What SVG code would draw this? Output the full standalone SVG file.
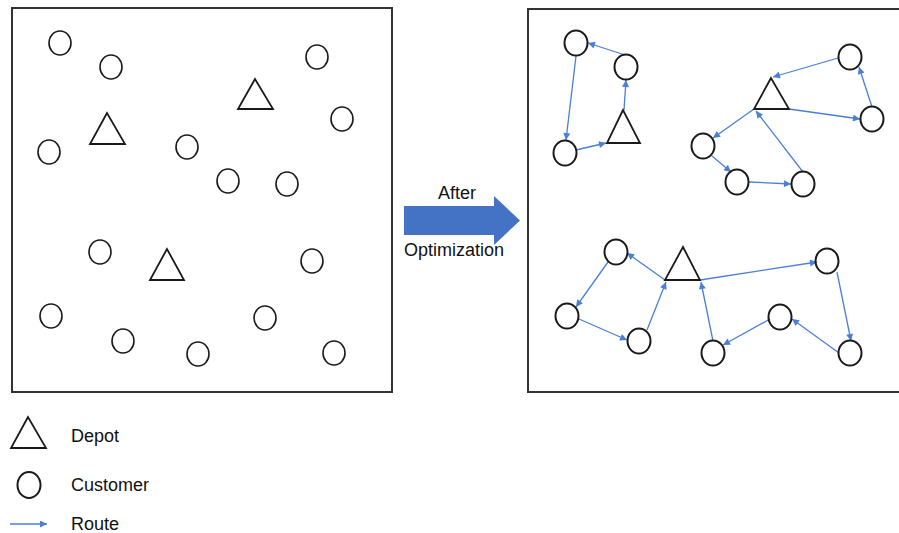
<svg xmlns="http://www.w3.org/2000/svg" width="899" height="533" viewBox="0 0 899 533">
  <style>
    .panel { fill: #ffffff; stroke: #333333; stroke-width: 2; }
    .cust { fill: none; stroke: #1a1a1a; stroke-width: 1.6; }
    .cust2 { fill: none; stroke: #1a1a1a; stroke-width: 2; }
    .depot { fill: none; stroke: #1a1a1a; stroke-width: 1.8; stroke-linejoin: miter; }
    .route { stroke: #4a7fd6; stroke-width: 1.3; fill: none; marker-end: url(#tip); }
    .lbl { font-family: "Liberation Sans", Arial, sans-serif; font-size: 18px; fill: #111111; }
  </style>
  <defs>
    <marker id="tip" viewBox="0 0 10 10" refX="10" refY="5" markerWidth="8" markerHeight="7" markerUnits="userSpaceOnUse" orient="auto">
      <path d="M0,0 L10,5 L0,10 Z" fill="#4a7fd6"/>
    </marker>
  </defs>
  <rect width="899" height="533" fill="#ffffff"/>

  <!-- Before: unassigned customers and depots -->
  <g id="panel-before">
    <rect class="panel" x="12" y="8" width="380" height="384"/>
    <g id="before-depots">
      <polygon class="depot" points="107,113 90,144 125,144"/>
      <polygon class="depot" points="255,79 238,109 273,109"/>
      <polygon class="depot" points="167,249 150,280 184,280"/>
    </g>
    <g id="before-customers">
      <ellipse class="cust" cx="60" cy="43" rx="11" ry="12"/>
      <ellipse class="cust" cx="111" cy="67" rx="11" ry="12"/>
      <ellipse class="cust" cx="49" cy="152" rx="11" ry="12"/>
      <ellipse class="cust" cx="187" cy="147" rx="11" ry="12"/>
      <ellipse class="cust" cx="228" cy="181" rx="11" ry="12"/>
      <ellipse class="cust" cx="287" cy="184" rx="11" ry="12"/>
      <ellipse class="cust" cx="317" cy="57" rx="11" ry="12"/>
      <ellipse class="cust" cx="342" cy="119" rx="11" ry="12"/>
      <ellipse class="cust" cx="100" cy="252" rx="11" ry="12"/>
      <ellipse class="cust" cx="312" cy="261" rx="11" ry="12"/>
      <ellipse class="cust" cx="51" cy="316" rx="11" ry="12"/>
      <ellipse class="cust" cx="123" cy="341" rx="11" ry="12"/>
      <ellipse class="cust" cx="198" cy="354" rx="11" ry="12"/>
      <ellipse class="cust" cx="265" cy="318" rx="11" ry="12"/>
      <ellipse class="cust" cx="334" cy="353" rx="11" ry="12"/>
    </g>
  </g>

  <!-- Transition arrow -->
  <g id="transition">
    <path d="M404,206 L494,206 L494,196 L520,220.5 L494,245 L494,235 L404,235 Z" fill="#4472c4"/>
    <text class="lbl" x="457" y="199" text-anchor="middle">After</text>
    <text class="lbl" x="454" y="256" text-anchor="middle">Optimization</text>
  </g>

  <!-- After: routed customers -->
  <g id="panel-after">
    <rect class="panel" x="528" y="9" width="385" height="383"/>
  </g>

  <g id="routes">
    <line class="route" x1="625" y1="55" x2="588" y2="43"/>
    <line class="route" x1="576" y1="56" x2="566" y2="140"/>
    <line class="route" x1="576" y1="150" x2="606" y2="143"/>
    <line class="route" x1="624" y1="110" x2="626" y2="80"/>

    <line class="route" x1="838" y1="58" x2="773" y2="77"/>
    <line class="route" x1="789" y1="109" x2="860" y2="119"/>
    <line class="route" x1="872" y1="107" x2="859" y2="67"/>
    <line class="route" x1="754" y1="109" x2="713" y2="138"/>
    <line class="route" x1="712" y1="156" x2="731" y2="172"/>
    <line class="route" x1="749" y1="182" x2="791" y2="184"/>
    <line class="route" x1="803" y1="172" x2="756" y2="111"/>

    <line class="route" x1="665" y1="280" x2="627" y2="253"/>
    <line class="route" x1="608" y1="262" x2="576" y2="307"/>
    <line class="route" x1="579" y1="319" x2="627" y2="340"/>
    <line class="route" x1="647" y1="330" x2="666" y2="282"/>
    <line class="route" x1="713" y1="341" x2="701" y2="282"/>
    <line class="route" x1="700" y1="280" x2="817" y2="262"/>
    <line class="route" x1="837" y1="272" x2="851" y2="341"/>
    <line class="route" x1="839" y1="353" x2="792" y2="319"/>
    <line class="route" x1="770" y1="319" x2="723" y2="345"/>
  </g>

  <g id="depot-1"><polygon class="depot" points="623,110 607,143 640,143"/></g>
  <g id="depot-2"><polygon class="depot" points="771,78 754,109 789,109"/></g>
  <g id="depot-3"><polygon class="depot" points="683,247 665,280 700,280"/></g>

  <g id="cust-a"><ellipse class="cust2" cx="576" cy="43" rx="11.5" ry="12.5"/></g>
  <g id="cust-b"><ellipse class="cust2" cx="626" cy="67" rx="11.5" ry="12.5"/></g>
  <g id="cust-c"><ellipse class="cust2" cx="565" cy="153" rx="11.5" ry="12.5"/></g>
  <g id="cust-d"><ellipse class="cust2" cx="850" cy="57" rx="11.5" ry="12.5"/></g>
  <g id="cust-e"><ellipse class="cust2" cx="872" cy="119" rx="11.5" ry="12.5"/></g>
  <g id="cust-f"><ellipse class="cust2" cx="703" cy="146" rx="11.5" ry="12.5"/></g>
  <g id="cust-g"><ellipse class="cust2" cx="737" cy="182" rx="11.5" ry="12.5"/></g>
  <g id="cust-h"><ellipse class="cust2" cx="803" cy="184" rx="11.5" ry="12.5"/></g>
  <g id="cust-i"><ellipse class="cust2" cx="616" cy="252" rx="11.5" ry="12.5"/></g>
  <g id="cust-j"><ellipse class="cust2" cx="567" cy="316" rx="11.5" ry="12.5"/></g>
  <g id="cust-k"><ellipse class="cust2" cx="639" cy="341" rx="11.5" ry="12.5"/></g>
  <g id="cust-l"><ellipse class="cust2" cx="713" cy="353" rx="11.5" ry="12.5"/></g>
  <g id="cust-m"><ellipse class="cust2" cx="827" cy="261" rx="11.5" ry="12.5"/></g>
  <g id="cust-n"><ellipse class="cust2" cx="780" cy="317" rx="11.5" ry="12.5"/></g>
  <g id="cust-o"><ellipse class="cust2" cx="850" cy="353" rx="11.5" ry="12.5"/></g>

  <!-- Legend -->
  <g id="legend">
    <polygon class="depot" points="28,417 11,448 46,448"/>
    <text class="lbl" x="71" y="442">Depot</text>
    <ellipse class="cust2" cx="29" cy="485" rx="11.5" ry="13"/>
    <text class="lbl" x="71" y="491">Customer</text>
    <line class="route" x1="10" y1="524" x2="47" y2="524"/>
    <text class="lbl" x="71" y="530">Route</text>
  </g>
</svg>
